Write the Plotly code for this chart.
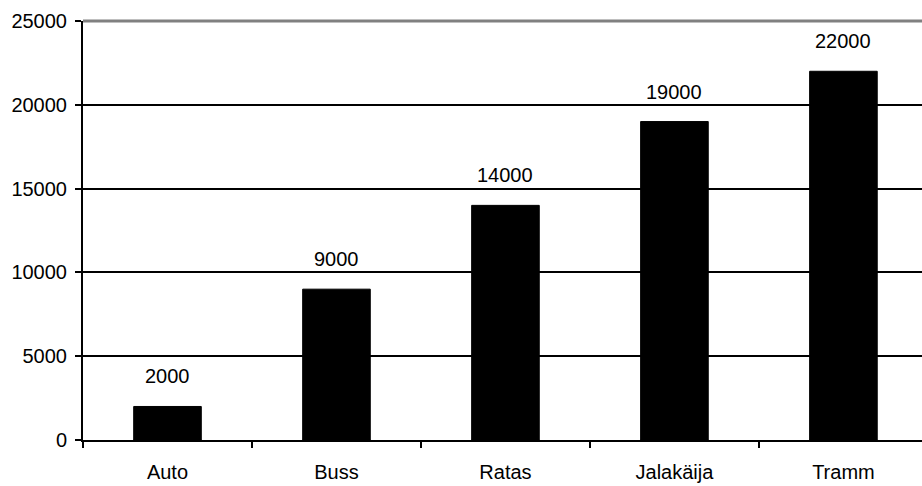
import plotly.graph_objects as go

categories = ["Auto", "Buss", "Ratas", "Jalakäija", "Tramm"]
values = [2000, 9000, 14000, 19000, 22000]
y_ticks = [0, 5000, 10000, 15000, 20000, 25000]
y_tick_labels = [str(t) for t in y_ticks]

FONT = "Liberation Sans, Arial, sans-serif"
FS = 20

fig = go.Figure()
fig.add_trace(go.Bar(
    x=categories, y=values,
    marker=dict(color="black", line=dict(color="black", width=1)),
    width=0.4,
))

for c, v in zip(categories, values):
    fig.add_annotation(
        x=c, y=v, text=str(v), showarrow=False,
        yanchor="middle", yshift=30,
        font=dict(family=FONT, size=FS, color="black"),
    )

# gray top border line of the plot area
fig.add_shape(type="line", xref="paper", yref="paper", x0=0, x1=1.01,
              y0=1, y1=1, layer="above",
              line=dict(color="#808080", width=3))

fig.update_layout(
    width=922, height=486,
    margin=dict(l=83, r=0, t=21, b=46, pad=0),
    paper_bgcolor="white", plot_bgcolor="white",
    showlegend=False,
    font=dict(family=FONT, size=FS, color="black"),
)
fig.update_xaxes(
    range=[-0.5, 4.465],
    showline=True, linecolor="black", linewidth=2,
    ticks="outside", tickson="boundaries", ticklen=6, tickwidth=2, tickcolor="black",
    ticklabelstandoff=13,
    showgrid=False, zeroline=False,
    tickfont=dict(family=FONT, size=FS, color="black"),
)
fig.update_yaxes(
    range=[0, 25000],
    tickvals=y_ticks, ticktext=y_tick_labels,
    showline=True, linecolor="black", linewidth=2,
    ticks="outside", ticklen=6, tickwidth=2, tickcolor="black",
    ticklabelstandoff=4,
    showgrid=True, gridcolor="black", gridwidth=2,
    zeroline=False,
    tickfont=dict(family=FONT, size=FS, color="black"),
)

fig.write_html("out.html")
